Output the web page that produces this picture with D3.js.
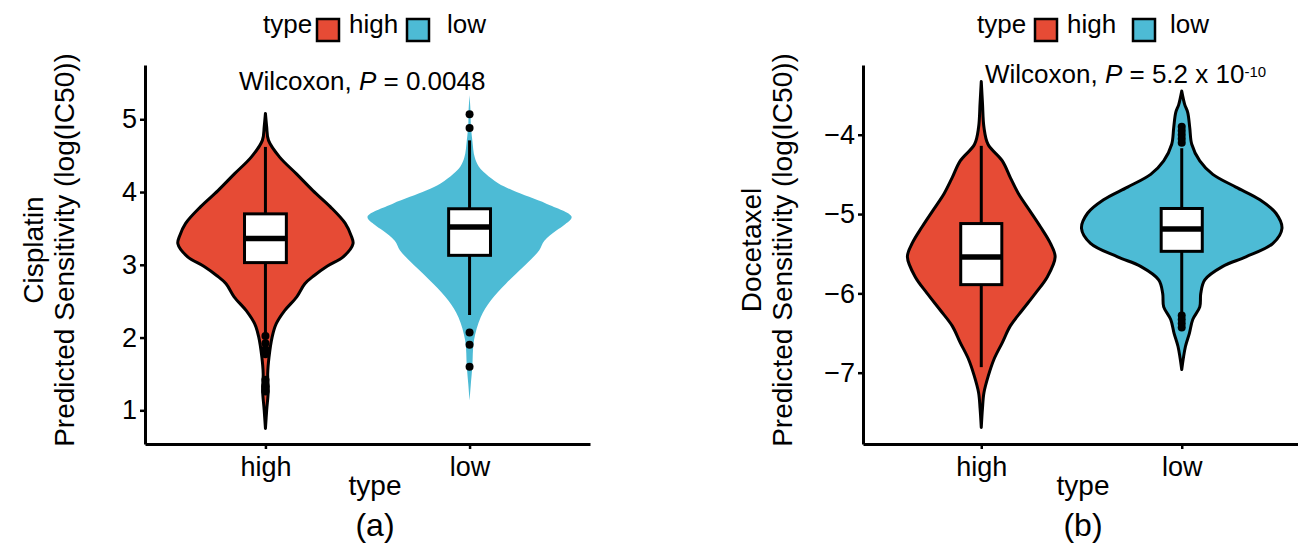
<!DOCTYPE html>
<html>
<head>
<meta charset="utf-8">
<script src="https://cdn.jsdelivr.net/npm/d3@7"></script>
<style>
  body { margin: 0; background: #fff; }
  text { font-family: "Liberation Sans", Arial, sans-serif; fill: #000; }
</style>
</head>
<body>
<svg id="canvas" width="1298" height="549"></svg>
<script>
let types = ["high", "low"];
let typeColors = ["#E64B35", "#4DBBD5"];

// (a) Cisplatin, box stats per type
let cisQ1 = [3.03, 3.13];
let cisMedian = [3.36, 3.52];
let cisQ3 = [3.70, 3.77];
let cisWhiskLo = [2.05, 2.31];
let cisWhiskHi = [4.62, 4.71];
let cisOutHigh = [2.02, 1.92, 1.84, 1.77, 1.42, 1.33, 1.26];
let cisOutLow = [5.07, 4.88, 2.07, 1.90, 1.60];
let cisTicks = [1, 2, 3, 4, 5];

// violin outlines: [value, relative density]
let cisDensityHigh = [
  [5.08, 0], [4.90, 0.012], [4.71, 0.03], [4.48, 0.139], [4.25, 0.304], [4.02, 0.465],
  [3.80, 0.634], [3.57, 0.782], [3.40, 0.84], [3.29, 0.858], [3.11, 0.762], [2.98, 0.604],
  [2.85, 0.475], [2.74, 0.386], [2.56, 0.307], [2.37, 0.188], [2.19, 0.106], [2.01, 0.066],
  [1.73, 0.035], [1.50, 0.022], [1.28, 0.028], [1.00, 0.012], [0.75, 0]
];
let cisDensityLow = [
  [5.33, 0], [5.10, 0.01], [4.94, 0.012], [4.71, 0.027], [4.48, 0.05], [4.35, 0.09],
  [4.25, 0.158], [4.12, 0.28], [4.02, 0.426], [3.84, 0.752], [3.66, 1.0], [3.55, 0.93],
  [3.47, 0.85], [3.33, 0.733], [3.20, 0.683], [3.10, 0.62], [2.97, 0.525], [2.74, 0.356],
  [2.51, 0.208], [2.28, 0.109], [1.96, 0.043], [1.60, 0.027], [1.35, 0.012], [1.13, 0]
];

// (b) Docetaxel
let docQ1 = [-5.89, -5.47];
let docMedian = [-5.54, -5.19];
let docQ3 = [-5.12, -4.93];
let docWhiskLo = [-6.93, -6.25];
let docWhiskHi = [-4.14, -4.17];
let docOutHigh = [];
let docOutLow = [-3.90, -3.95, -4.00, -4.05, -4.10, -6.28, -6.33, -6.38, -6.43];
let docTicks = [-7, -6, -5, -4];

let docDensityHigh = [
  [-3.33, 0], [-3.60, 0.012], [-3.91, 0.027], [-4.12, 0.067], [-4.33, 0.21], [-4.54, 0.29],
  [-4.74, 0.37], [-4.95, 0.48], [-5.16, 0.59], [-5.37, 0.69], [-5.54, 0.737], [-5.79, 0.66],
  [-6.00, 0.54], [-6.21, 0.41], [-6.41, 0.29], [-6.62, 0.21], [-6.83, 0.127], [-7.04, 0.07],
  [-7.25, 0.027], [-7.45, 0.012], [-7.69, 0]
];
let docDensityLow = [
  [-3.45, 0], [-3.62, 0.03], [-3.72, 0.06], [-3.91, 0.08], [-4.12, 0.10], [-4.33, 0.18],
  [-4.50, 0.31], [-4.66, 0.54], [-4.82, 0.78], [-4.99, 0.94], [-5.18, 1.0], [-5.37, 0.91],
  [-5.54, 0.64], [-5.66, 0.41], [-5.83, 0.23], [-6.00, 0.19], [-6.17, 0.18], [-6.33, 0.11],
  [-6.50, 0.077], [-6.67, 0.037], [-6.96, 0]
];

let canvas = d3.select("#canvas");

let drawPanel = (p) => {
  let x = d3.scalePoint().domain(types).range([p.left, p.right]).padding(0.59);
  let y = d3.scaleLinear().domain(p.yDomain).range([444, 65]);
  let halfWidth = d3.scaleLinear().domain([0, 1]).range([0, x.step() / 2]);
  let boxW = x.step() * 0.205;
  let g = canvas.append("g");

  // violins
  types.forEach((t, i) => {
    let cx = x(t);
    let area = d3.area()
      .curve(d3.curveCatmullRom)
      .y((d) => y(d[0]))
      .x0((d) => cx - halfWidth(d[1]))
      .x1((d) => cx + halfWidth(d[1]));
    g.append("path")
      .datum(p.density[i])
      .attr("d", area)
      .attr("fill", typeColors[i])
      .attr("stroke", p.outline[i] ? "#000" : "none")
      .attr("stroke-width", 3)
      .attr("stroke-linejoin", "round");
  });

  // boxplots
  types.forEach((t, i) => {
    let cx = x(t);
    g.append("line")
      .attr("x1", cx).attr("x2", cx)
      .attr("y1", y(p.whiskLo[i])).attr("y2", y(p.whiskHi[i]))
      .attr("stroke", "#000").attr("stroke-width", 3);
    g.append("rect")
      .attr("x", cx - boxW / 2)
      .attr("y", y(p.q3[i]))
      .attr("width", boxW)
      .attr("height", y(p.q1[i]) - y(p.q3[i]))
      .attr("fill", "#fff").attr("stroke", "#000").attr("stroke-width", 3);
    g.append("line")
      .attr("x1", cx - boxW / 2).attr("x2", cx + boxW / 2)
      .attr("y1", y(p.median[i])).attr("y2", y(p.median[i]))
      .attr("stroke", "#000").attr("stroke-width", 5.5);
    g.selectAll(null)
      .data(p.outliers[i])
      .enter()
      .append("circle")
      .attr("cx", cx)
      .attr("cy", (v) => y(v))
      .attr("r", 4)
      .attr("fill", "#000");
  });

  // axes
  let yAxis = g.append("g")
    .attr("transform", "translate(" + p.left + ",0)")
    .call(d3.axisLeft(y).tickValues(p.ticks).tickFormat(d3.format("d"))
      .tickSize(5).tickSizeOuter(0).tickPadding(3));
  let xAxis = g.append("g")
    .attr("transform", "translate(0,444)")
    .call(d3.axisBottom(x).tickSize(5).tickSizeOuter(0).tickPadding(8));
  [yAxis, xAxis].forEach((a) => {
    a.select(".domain").attr("stroke-width", 3);
    a.selectAll(".tick line").attr("stroke-width", 2.5);
    a.selectAll("text").attr("font-size", 27).attr("font-family", "Liberation Sans, Arial, sans-serif");
  });

  // y title (two lines)
  let yt = g.append("text")
    .attr("transform", "translate(" + (p.left - 102) + ",250) rotate(-90)")
    .attr("text-anchor", "middle")
    .attr("font-size", 28);
  yt.append("tspan").attr("x", 0).attr("y", 0).text(p.drug);
  yt.append("tspan").attr("x", 0).attr("y", 31).text("Predicted Sensitivity (log(IC50))");

  // x title and panel tag
  g.append("text").attr("x", p.titleX).attr("y", 495).attr("text-anchor", "middle")
    .attr("font-size", 28).text("type");
  g.append("text").attr("x", p.titleX).attr("y", 536).attr("text-anchor", "middle")
    .attr("font-size", 32).text(p.tag);

  // legend
  let lg = g.append("g").attr("font-size", 26);
  lg.append("text").attr("x", p.legend[0]).attr("y", 33).text("type");
  types.forEach((t, i) => {
    lg.append("rect")
      .attr("x", p.legend[1 + i * 2]).attr("y", 19)
      .attr("width", 22).attr("height", 22)
      .attr("fill", typeColors[i]).attr("stroke", "#000").attr("stroke-width", 2.5);
    lg.append("text").attr("x", p.legend[2 + i * 2]).attr("y", 33).text(t);
  });

  // test label
  let w = g.append("text").attr("x", p.statX).attr("y", p.statY).attr("font-size", 26);
  w.append("tspan").text("Wilcoxon, ");
  w.append("tspan").attr("font-style", "italic").text("P");
  w.append("tspan").text(" = " + p.pText);
  if (p.pExp) {
    w.append("tspan").attr("dy", -6).attr("font-size", 15).text(p.pExp);
  }
};

drawPanel({
  left: 145, right: 590, yDomain: [0.537, 5.746], ticks: cisTicks,
  density: [cisDensityHigh, cisDensityLow], outline: [true, false],
  q1: cisQ1, median: cisMedian, q3: cisQ3, whiskLo: cisWhiskLo, whiskHi: cisWhiskHi,
  outliers: [cisOutHigh, cisOutLow],
  drug: "Cisplatin", tag: "(a)", titleX: 375,
  legend: [263, 317, 349, 407, 447],
  statX: 239, statY: 90, pText: "0.0048", pExp: null
});

drawPanel({
  left: 863, right: 1300, yDomain: [-7.899, -3.121], ticks: docTicks,
  density: [docDensityHigh, docDensityLow], outline: [true, true],
  q1: docQ1, median: docMedian, q3: docQ3, whiskLo: docWhiskLo, whiskHi: docWhiskHi,
  outliers: [docOutHigh, docOutLow],
  drug: "Docetaxel", tag: "(b)", titleX: 1083,
  legend: [977, 1035, 1067, 1133, 1170],
  statX: 985, statY: 83, pText: "5.2 x 10", pExp: "-10"
});
</script>
</body>
</html>
